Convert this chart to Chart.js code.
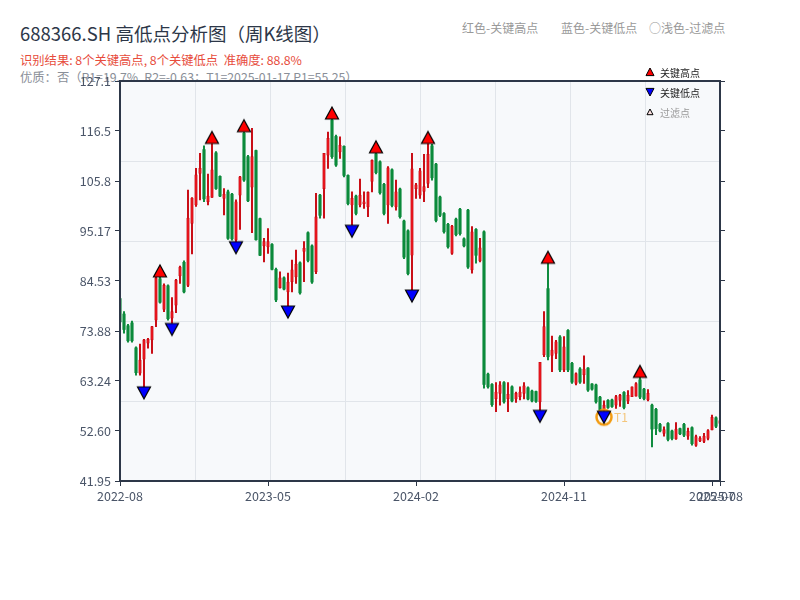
<!DOCTYPE html>
<html>
<head>
<meta charset="utf-8">
<script src="https://cdn.jsdelivr.net/npm/chart.js@4.4.0/dist/chart.umd.min.js"></script>
<style>
  body { margin: 0; background: #fff; }
  #wrap { position: relative; width: 800px; height: 600px; font-family: "Noto Sans CJK SC", "Noto Sans", sans-serif; }
  .t { position: absolute; white-space: pre; line-height: 1; }
  canvas { position: absolute; left: 0; top: 0; }
</style>
</head>
<body>
<div id="wrap">
  <div class="t" style="left:20px;top:24px;font-size:18.5px;color:#2d3748">688366.SH 高低点分析图（周K线图）</div>
  <div class="t" style="left:20px;top:54px;font-size:12.3px;color:#e74c3c">识别结果: 8个关键高点, 8个关键低点  准确度: 88.8%</div>
  <div class="t" style="left:20px;top:71px;font-size:12.3px;color:#8a8f98">优质：否（R1=19.7%, R2=-0.63；T1=2025-01-17 P1=55.25）</div>
  <div class="t" style="left:462px;top:22px;font-size:12px;color:#999">红色-关键高点</div>
  <div class="t" style="left:561px;top:22px;font-size:12px;color:#999">蓝色-关键低点</div>
  <div class="t" style="left:649px;top:22px;font-size:12px;color:#999">○浅色-过滤点</div>
  <canvas id="c" width="800" height="600"></canvas>
</div>
<script>
const FONT = '"Noto Sans CJK SC", "Noto Sans", sans-serif';

// weekly candles, index 0..150
const opens = [80.8,77.5,75.0,75.6,70.3,64.9,67.9,71.3,72.0,76.2,
  85.0,78.5,83.5,76.6,79.4,85.6,88.5,83.6,96.8,100.7,
  107.4,112.5,101.4,102.3,111.8,106.8,102.1,103.5,103.0,93.3,
  102.8,116.0,111.0,104.5,112.3,97.8,92.0,91.8,92.3,87.0,
  83.1,85.2,82.2,84.4,85.4,88.4,90.8,94.8,92.0,86.5,
  102.8,104.2,111.3,118.8,115.3,112.0,113.2,107.0,100.7,102.6,
  100.7,101.0,100.3,105.7,111.6,109.9,105.1,100.7,108.2,100.3,
  104.1,97.3,95.2,90.0,104.2,102.8,103.6,105.3,113.3,109.4,
  102.4,98.9,96.6,90.4,97.7,99.8,93.5,99.6,86.9,95.5,
  88.8,95.0,64.7,62.5,59.5,60.6,62.9,59.5,62.0,59.4,
  59.9,60.6,61.8,61.1,61.0,58.8,68.8,82.9,68.7,69.1,
  72.6,65.6,74.0,67.0,62.7,65.8,64.6,66.0,62.6,62.4,
  59.8,57.0,59.1,59.2,58.1,59.1,60.8,59.0,59.9,60.0,
  63.5,61.5,59.2,58.1,57.2,54.0,52.1,54.2,52.6,50.9,
  53.1,54.0,51.5,53.3,49.5,50.5,50.4,51.0,52.8,55.4,
  54.2];
const highs = [81.0,78.0,75.3,76.0,70.5,71.1,72.1,72.3,74.9,85.3,
  85.4,83.9,83.7,81.0,84.9,87.7,88.8,103.9,102.3,108.5,
  111.7,113.3,107.3,113.8,112.1,106.9,104.2,103.9,103.2,101.8,
  106.8,116.3,111.3,117.0,112.4,97.9,93.6,95.7,92.5,87.3,
  86.5,85.4,86.2,89.0,91.1,88.6,92.9,95.0,92.2,103.2,
  103.0,111.7,116.2,119.0,115.6,115.2,113.3,107.1,103.5,102.8,
  106.2,103.5,103.5,110.3,111.8,110.1,105.3,108.9,108.4,106.0,
  104.3,97.5,95.4,111.7,105.3,108.5,111.5,113.8,113.6,109.6,
  102.6,99.1,96.8,96.4,97.9,100.0,93.7,99.8,96.1,95.7,
  93.6,95.2,64.9,62.7,62.9,63.1,63.1,62.9,62.2,60.9,
  62.0,62.9,62.0,61.3,61.1,67.2,78.0,88.3,72.8,71.9,
  72.9,72.7,74.2,67.2,65.0,66.1,68.6,66.1,62.7,62.6,
  60.0,59.0,59.3,59.4,60.2,60.4,61.0,61.2,62.0,62.9,
  64.0,61.7,61.4,58.3,57.4,54.2,53.5,54.4,52.8,54.4,
  53.2,54.2,53.2,53.5,51.7,51.4,52.1,52.9,56.0,55.6,
  55.3];
const lows = [75.5,73.4,71.5,71.5,64.5,64.5,62.0,70.2,69.1,74.8,
  79.8,78.0,76.2,75.5,77.8,84.0,82.0,83.3,90.3,100.4,
  101.8,101.4,100.7,102.3,104.0,102.5,98.6,93.4,93.2,92.9,
  95.5,105.7,101.4,94.8,93.2,89.9,88.6,90.4,86.9,80.1,
  83.0,82.6,79.2,82.2,84.0,81.7,84.4,88.6,84.0,86.1,
  97.9,97.9,108.5,110.6,108.9,110.6,106.7,100.7,96.4,98.6,
  100.3,100.0,98.2,103.5,107.3,103.0,98.6,96.8,100.3,99.6,
  97.9,89.3,85.8,82.6,102.1,102.1,101.4,104.4,106.0,97.1,
  98.2,94.7,91.5,90.2,94.1,94.3,91.8,87.2,86.2,88.3,
  88.6,61.7,61.7,57.8,56.7,58.1,58.5,56.7,58.8,58.7,
  59.2,59.4,59.2,58.8,58.7,57.0,68.4,67.7,65.2,68.0,
  65.2,65.2,65.2,62.7,62.4,62.7,62.7,61.0,61.3,58.5,
  56.9,56.8,57.4,57.6,57.4,57.8,57.3,58.4,59.9,60.0,
  59.5,59.2,59.0,49.2,51.8,52.4,51.5,50.5,50.7,50.8,
  51.8,51.4,50.8,49.6,49.3,50.3,50.1,50.7,52.8,53.3,
  53.5];
const closes = [75.8,74.2,71.8,71.8,65.0,67.7,72.0,72.1,74.8,85.1,
  80.0,83.6,76.5,78.0,84.7,87.5,82.2,97.9,102.2,107.1,
  108.5,102.0,102.6,108.2,104.2,102.6,103.0,93.6,93.5,101.4,
  106.7,106.0,101.6,111.0,93.3,90.0,92.9,92.9,87.0,80.5,
  85.2,82.8,84.3,86.9,88.1,82.0,91.5,88.9,84.3,98.2,
  98.5,111.7,114.9,111.0,109.2,113.4,107.0,101.0,102.1,98.9,
  102.8,101.4,103.4,110.2,107.6,103.3,98.9,108.6,100.6,103.5,
  98.2,89.6,86.1,108.4,105.0,108.0,104.6,111.5,106.5,97.4,
  98.5,95.0,91.8,96.2,94.4,94.6,92.0,87.5,95.0,90.0,
  91.6,62.5,62.0,58.2,60.9,62.4,58.8,60.4,59.0,60.6,
  60.9,62.2,59.4,59.0,58.9,67.2,74.8,68.4,69.8,71.6,
  65.6,70.5,65.6,63.0,64.8,63.0,65.8,61.3,61.5,58.8,
  57.0,58.1,57.6,57.8,59.9,60.2,57.6,60.2,62.0,62.7,
  59.8,59.5,60.6,53.0,53.1,52.6,52.9,50.8,51.0,53.0,
  52.0,51.7,52.5,49.9,51.4,51.1,51.5,52.7,55.5,53.6,
  54.8];

const keyHighIdx = [10, 23, 31, 53, 64, 77, 107, 130];
const keyLowIdx = [6, 13, 29, 42, 58, 73, 105, 121];
const t1Idx = 121;

const xTickIdx = [0, 37, 74, 111, 148, 150];
const xTickLabels = ["2022-08", "2023-05", "2024-02", "2024-11", "2025-07", "2025-08"];
const yTicks = [41.95, 52.60, 63.24, 73.88, 84.53, 95.17, 105.8, 116.5, 127.1];
const yTickLabels = ["41.95", "52.60", "63.24", "73.88", "84.53", "95.17", "105.8", "116.5", "127.1"];

const RED = '#c80a12', RED_FILL = '#e8161d', GREEN = '#0b8a3b', AXIS = '#2d3748';

// split candles by colour
const up = [], down = [];
opens.forEach((o, i) => (closes[i] >= o ? up : down).push(i));
const wick = (ids) => ids.map(i => ({ x: i, y: [lows[i], highs[i]] }));
const body = (ids) => ids.map(i => ({ x: i, y: [opens[i], closes[i]] }));

// marker images: centre of image sits on the data value
function tri(dir, fill) {
  const c = document.createElement('canvas');
  c.width = 16; c.height = 30;
  const g = c.getContext('2d');
  g.beginPath();
  if (dir === 'up') { g.moveTo(8, 3); g.lineTo(14.5, 15); g.lineTo(1.5, 15); }
  else { g.moveTo(1.5, 15); g.lineTo(14.5, 15); g.lineTo(8, 27); }
  g.closePath();
  g.fillStyle = fill; g.fill();
  g.lineWidth = 1.2; g.strokeStyle = '#000'; g.stroke();
  return c;
}
function ring() {
  const c = document.createElement('canvas');
  c.width = 24; c.height = 36;
  const g = c.getContext('2d');
  g.beginPath(); g.arc(12, 24, 7.5, 0, Math.PI * 2);
  g.lineWidth = 2.5; g.strokeStyle = '#f39c12'; g.stroke();
  return c;
}

const bgPlugin = {
  id: 'bg',
  beforeDraw(chart) {
    const { ctx, chartArea: a } = chart;
    ctx.save();
    ctx.fillStyle = '#f7f9fb';
    ctx.fillRect(a.left, a.top, a.right - a.left, a.bottom - a.top);
    ctx.restore();
  },
  beforeDatasetsDraw(chart) {
    const { ctx, chartArea: a } = chart;
    ctx.save();
    ctx.strokeStyle = '#e1e5ea';
    ctx.lineWidth = 1;
    const w = a.right - a.left, h = a.bottom - a.top;
    for (let k = 1; k < 8; k++) {
      const x = Math.round(a.left + w * k / 8) + 0.5;
      ctx.beginPath(); ctx.moveTo(x, a.top); ctx.lineTo(x, a.bottom); ctx.stroke();
    }
    for (let k = 1; k < 5; k++) {
      const y = Math.round(a.top + h * k / 5) + 0.5;
      ctx.beginPath(); ctx.moveTo(a.left, y); ctx.lineTo(a.right, y); ctx.stroke();
    }
    ctx.restore();
  },
  afterDatasetsDraw(chart) {
    const { ctx, chartArea: a, scales } = chart;
    ctx.save();
    // frame
    ctx.strokeStyle = AXIS;
    ctx.lineWidth = 2;
    ctx.strokeRect(a.left, a.top, a.right - a.left, a.bottom - a.top);
    // T1 label
    const x = scales.x.getPixelForValue(t1Idx) + 10;
    const y = scales.y.getPixelForValue(lows[t1Idx]) + 6;
    ctx.font = '12px ' + FONT;
    ctx.fillStyle = 'rgba(243,156,18,0.55)';
    ctx.textBaseline = 'middle';
    ctx.fillText('T1', x, y);
    ctx.restore();
  },
  afterDraw(chart) {
    const { ctx, chartArea: a } = chart;
    const rows = [
      { dy: -9, dir: 'up', fill: '#ff0000', text: '关键高点', color: '#222', s: 4 },
      { dy: 11, dir: 'down', fill: '#0000ff', text: '关键低点', color: '#222', s: 4 },
      { dy: 31, dir: 'up', fill: '#fde2e2', text: '过滤点', color: '#999', s: 3 }
    ];
    const ix = a.right - 70;
    ctx.save();
    ctx.font = '10px ' + FONT;
    ctx.textBaseline = 'middle';
    rows.forEach(r => {
      const cy = a.top + r.dy;
      ctx.beginPath();
      if (r.dir === 'up') { ctx.moveTo(ix, cy - r.s); ctx.lineTo(ix + r.s, cy + r.s * 0.9); ctx.lineTo(ix - r.s, cy + r.s * 0.9); }
      else { ctx.moveTo(ix - r.s, cy - r.s * 0.9); ctx.lineTo(ix + r.s, cy - r.s * 0.9); ctx.lineTo(ix, cy + r.s); }
      ctx.closePath();
      ctx.fillStyle = r.fill; ctx.fill();
      ctx.lineWidth = 1; ctx.strokeStyle = '#000'; ctx.stroke();
      ctx.fillStyle = r.color;
      ctx.fillText(r.text, ix + 10, cy + 1);
    });
    ctx.restore();
  }
};

new Chart(document.getElementById('c'), {
  type: 'bar',
  data: {
    datasets: [
      { type: 'scatter', data: keyHighIdx.map(i => ({ x: i, y: highs[i] })), pointStyle: tri('up', '#ff0000'), order: 1 },
      { type: 'scatter', data: keyLowIdx.map(i => ({ x: i, y: lows[i] })), pointStyle: tri('down', '#0000ff'), order: 1 },
      { type: 'scatter', data: [{ x: t1Idx, y: lows[t1Idx] }], pointStyle: ring(), order: 2 },
      { data: body(up), backgroundColor: RED_FILL, borderColor: RED, borderWidth: 0.7, borderSkipped: false, barThickness: 2.6, grouped: false, order: 4, clip: 0 },
      { data: body(down), backgroundColor: GREEN, barThickness: 2.5, grouped: false, order: 4, clip: 0 },
      { data: wick(up), backgroundColor: RED, barThickness: 1.3, grouped: false, order: 5, clip: 0 },
      { data: wick(down), backgroundColor: GREEN, barThickness: 1.3, grouped: false, order: 5, clip: 0 }
    ]
  },
  options: {
    responsive: false,
    animation: false,
    layout: { padding: { left: 0, top: 81, right: 70, bottom: 89 } },
    plugins: { legend: { display: false }, tooltip: { enabled: false } },
    scales: {
      x: {
        type: 'linear', min: 0, max: 150, offset: false,
        grid: { display: true, drawOnChartArea: false, drawTicks: true, tickLength: 5, color: AXIS, offset: false },
        border: { display: true, color: AXIS, width: 2 },
        ticks: {
          autoSkip: false, maxRotation: 0, minRotation: 0, padding: 3, color: '#4a5568',
          font: { size: 12.5, family: FONT },
          callback: (v) => { const k = xTickIdx.indexOf(v); return k < 0 ? '' : xTickLabels[k]; }
        },
        afterBuildTicks: (s) => { s.ticks = xTickIdx.map(v => ({ value: v })); },
        afterFit: (s) => { s.height = 30; }
      },
      y: {
        type: 'linear', position: 'left', min: 41.95, max: 127.1,
        grid: { display: true, drawOnChartArea: false, drawTicks: true, tickLength: 5, color: AXIS },
        border: { display: true, color: AXIS, width: 2 },
        ticks: {
          padding: 4, color: '#4a5568', font: { size: 12.5, family: FONT },
          callback: (v, i) => yTickLabels[i]
        },
        afterBuildTicks: (s) => { s.ticks = yTicks.map(v => ({ value: v })); },
        afterFit: (s) => { s.width = 120; }
      },
      y2: {
        type: 'linear', position: 'right', min: 41.95, max: 127.1,
        grid: { display: true, drawOnChartArea: false, drawTicks: true, tickLength: 5, color: AXIS },
        border: { display: true, color: AXIS, width: 2 },
        ticks: { display: false },
        afterBuildTicks: (s) => { s.ticks = yTicks.map(v => ({ value: v })); },
        afterFit: (s) => { s.width = 10; }
      }
    }
  },
  plugins: [bgPlugin]
});
</script>
</body>
</html>
